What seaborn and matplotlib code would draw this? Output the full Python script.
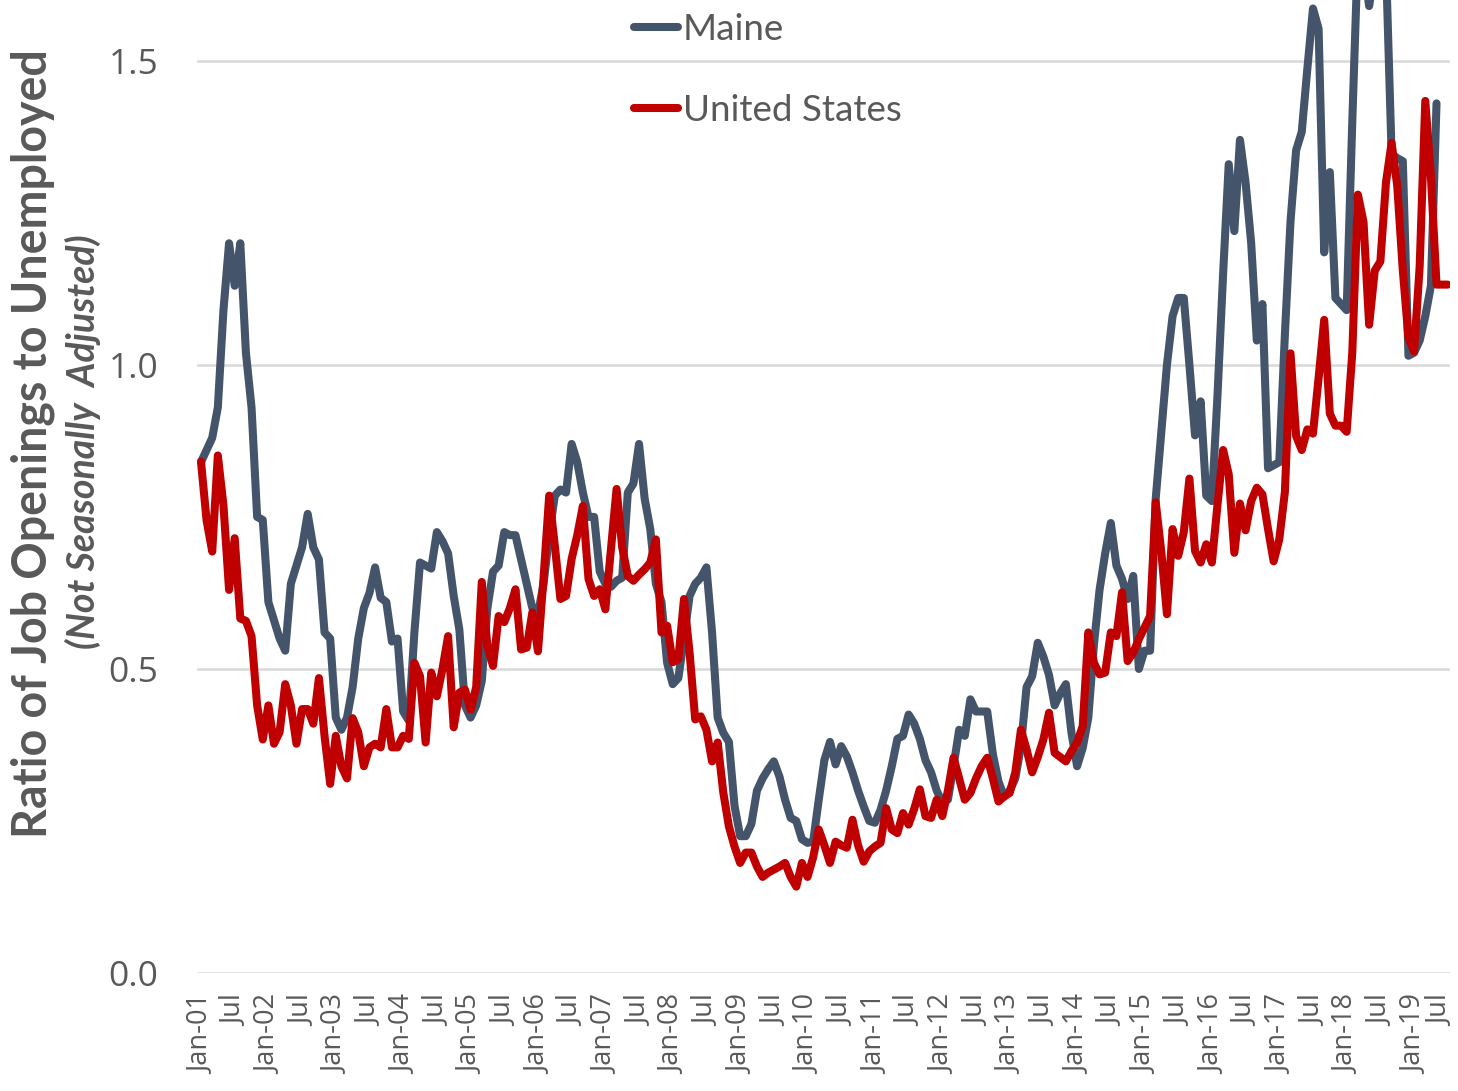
import numpy as np
import pandas as pd
import matplotlib
matplotlib.use("Agg")
import matplotlib.pyplot as plt
import matplotlib.transforms as mtransforms
import seaborn as sns

# Monthly ratio of job openings to unemployed, Jan-2001 onward
maine = [
    0.84, 0.86, 0.88, 0.93, 1.09, 1.20, 1.13, 1.20, 1.02, 0.93, 0.75, 0.745,
    0.61, 0.58, 0.55, 0.53, 0.64, 0.67, 0.70, 0.755, 0.70, 0.68, 0.56, 0.55,
    0.42, 0.40, 0.42, 0.47, 0.55, 0.60, 0.625, 0.667, 0.617, 0.61, 0.545, 0.55,
    0.43, 0.415, 0.56, 0.675, 0.67, 0.665, 0.725, 0.71, 0.69, 0.62, 0.565, 0.44,
    0.42, 0.44, 0.48, 0.60, 0.66, 0.67, 0.725, 0.72, 0.72, 0.68, 0.64, 0.60,
    0.59, 0.64, 0.72, 0.785, 0.795, 0.79, 0.87, 0.84, 0.79, 0.75, 0.75, 0.66,
    0.64, 0.635, 0.645, 0.65, 0.79, 0.805, 0.87, 0.78, 0.73, 0.64, 0.61, 0.51,
    0.475, 0.485, 0.55, 0.62, 0.64, 0.65, 0.667, 0.56, 0.42, 0.395, 0.38, 0.275,
    0.225, 0.225, 0.245, 0.30, 0.32, 0.335, 0.348, 0.323, 0.285, 0.255, 0.25, 0.22,
    0.214, 0.216, 0.285, 0.35, 0.38, 0.343, 0.373, 0.356, 0.33, 0.30, 0.274, 0.25,
    0.247, 0.268, 0.30, 0.34, 0.385, 0.39, 0.425, 0.41, 0.385, 0.35, 0.33, 0.30,
    0.28, 0.285, 0.34, 0.40, 0.39, 0.45, 0.43, 0.43, 0.43, 0.36, 0.315, 0.29,
    0.30, 0.32, 0.373, 0.47, 0.488, 0.543, 0.52, 0.49, 0.44, 0.46, 0.475, 0.395,
    0.34, 0.37, 0.42, 0.54, 0.63, 0.69, 0.74, 0.67, 0.648, 0.615, 0.653, 0.50,
    0.53, 0.53, 0.78, 0.89, 1.00, 1.08, 1.11, 1.11, 1.00, 0.884, 0.94, 0.785,
    0.776, 0.95, 1.15, 1.33, 1.22, 1.37, 1.30, 1.20, 1.04, 1.10, 0.83, 0.835,
    0.84, 1.05, 1.236, 1.353, 1.383, 1.487, 1.586, 1.553, 1.185, 1.317, 1.11, 1.10,
    1.09, 1.40, 1.68, 1.66, 1.59, 1.65, 1.70, 1.66, 1.347, 1.34, 1.335, 1.015,
    1.02, 1.04, 1.08, 1.13, 1.43,
]

united_states = [
    0.841, 0.744, 0.693, 0.851, 0.769, 0.63, 0.715, 0.583, 0.579, 0.554, 0.44, 0.384,
    0.44, 0.377, 0.396, 0.475, 0.44, 0.377, 0.434, 0.434, 0.41, 0.485, 0.39, 0.311,
    0.39, 0.34, 0.32, 0.419, 0.396, 0.34, 0.371, 0.377, 0.371, 0.434, 0.371, 0.371,
    0.39, 0.385, 0.51, 0.488, 0.379, 0.494, 0.455, 0.50, 0.554, 0.404, 0.461, 0.466,
    0.433, 0.47, 0.643, 0.537, 0.505, 0.587, 0.577, 0.60, 0.631, 0.532, 0.535, 0.593,
    0.529, 0.65, 0.785, 0.703, 0.615, 0.62, 0.681, 0.72, 0.768, 0.648, 0.62, 0.631,
    0.598, 0.697, 0.796, 0.70, 0.653, 0.645, 0.655, 0.664, 0.675, 0.713, 0.56, 0.571,
    0.511, 0.516, 0.615, 0.527, 0.417, 0.422, 0.40, 0.348, 0.379, 0.297, 0.241, 0.208,
    0.181, 0.198, 0.198, 0.175, 0.158, 0.165, 0.17, 0.175, 0.181, 0.158, 0.142, 0.181,
    0.158, 0.19, 0.236, 0.21, 0.181, 0.216, 0.21, 0.206, 0.252, 0.21, 0.183, 0.20,
    0.208, 0.214, 0.271, 0.236, 0.23, 0.263, 0.244, 0.27, 0.302, 0.258, 0.255, 0.285,
    0.258, 0.30, 0.354, 0.32, 0.285, 0.296, 0.32, 0.34, 0.354, 0.32, 0.282, 0.29,
    0.296, 0.33, 0.40, 0.368, 0.33, 0.355, 0.384, 0.428, 0.362, 0.355, 0.348, 0.365,
    0.379, 0.406, 0.56, 0.51, 0.491, 0.494, 0.56, 0.554, 0.626, 0.513, 0.527, 0.549,
    0.568, 0.587, 0.774, 0.692, 0.59, 0.73, 0.686, 0.725, 0.813, 0.694, 0.675, 0.705,
    0.675, 0.77, 0.86, 0.82, 0.691, 0.772, 0.728, 0.776, 0.798, 0.787, 0.73, 0.677,
    0.713, 0.791, 1.019, 0.883, 0.86, 0.894, 0.887, 0.978, 1.074, 0.92, 0.90, 0.90,
    0.89, 1.02, 1.28, 1.235, 1.066, 1.155, 1.17, 1.30, 1.365, 1.295, 1.155, 1.045,
    1.022, 1.162, 1.434, 1.31, 1.132, 1.132, 1.132,
]

tick_labels = [
    "Jan-01", "Jul", "Jan-02", "Jul", "Jan-03", "Jul", "Jan-04", "Jul",
    "Jan-05", "Jul", "Jan-06", "Jul", "Jan-07", "Jul", "Jan-08", "Jul",
    "Jan-09", "Jul", "Jan-10", "Jul", "Jan-11", "Jul", "Jan-12", "Jul",
    "Jan-13", "Jul", "Jan-14", "Jul", "Jan-15", "Jul", "Jan-16", "Jul",
    "Jan-17", "Jul", "Jan-18", "Jul", "Jan-19", "Jul",
]
y_ticks = [0.0, 0.5, 1.0, 1.5]
y_tick_labels = ["0.0", "0.5", "1.0", "1.5"]
series_names = ["Maine", "United States"]
colors = {"Maine": "#44546A", "United States": "#C00000"}

df = pd.DataFrame({
    "month": list(range(len(maine))) + list(range(len(united_states))),
    "ratio": maine + united_states,
    "series": [series_names[0]] * len(maine) + [series_names[1]] * len(united_states),
})

sns.set_theme(style="white")
plt.rcParams["font.family"] = ["Open Sans", "DejaVu Sans"]

W, H = 1458, 1091
LW = 5.8
fig = plt.figure(figsize=(W / 100, H / 100), dpi=100)
ax = fig.add_axes([197 / W, 1 - 973 / H, (1450 - 197) / W, 973 / H])

sns.lineplot(data=df, x="month", y="ratio", hue="series", hue_order=series_names,
             palette=colors, linewidth=LW, estimator=None, sort=False, ax=ax,
             solid_joinstyle="round", solid_capstyle="round")

ax.set_ylim(0, 1.6)
ax.set_xlim(-0.71, 222.4)
for s in ax.spines.values():
    s.set_visible(False)
ax.set_yticks(y_ticks)
ax.set_yticklabels(y_tick_labels)
ax.set_xticks(list(range(0, 6 * len(tick_labels), 6)))
ax.set_xticklabels(tick_labels, rotation=90)
ax.tick_params(axis="y", length=0, pad=28, labelsize=25.5, labelcolor="#595959")
ax.tick_params(axis="x", length=0, pad=16, labelsize=19.5, labelcolor="#595959")
ax.yaxis.grid(True, color="#d9d9d9", linewidth=1.8)
ax.xaxis.grid(False)
ax.set_axisbelow(True)
ax.set_xlabel("")
ax.set_ylabel("")

# nudge the last tick label slightly inward so it stays inside the canvas
last = ax.get_xticklabels()[-1]
last.set_transform(last.get_transform()
                   + mtransforms.ScaledTranslation(-7 / 100, 0, fig.dpi_scale_trans))

handles, labels = ax.get_legend_handles_labels()
leg = ax.legend(handles, labels, loc="upper left",
                bbox_to_anchor=(634 / W, 1 - 13 / H), bbox_transform=fig.transFigure,
                frameon=False, handlelength=1.2, handletextpad=0.12,
                labelspacing=1.31, borderpad=0, borderaxespad=0,
                prop={"family": ["Lato", "Open Sans", "DejaVu Sans"], "size": 26.5})
for t in leg.get_texts():
    t.set_color("#595959")
for l in leg.get_lines():
    l.set_linewidth(LW)
    l.set_solid_capstyle("round")

fig.text(33 / W, 1 - 444 / H, "Ratio of Job Openings to Unemployed", rotation=90,
         ha="center", va="center", fontsize=33.5, fontweight="bold", color="#595959",
         family=["Lato", "Open Sans", "DejaVu Sans"])
fig.text(83 / W, 1 - 442 / H, "(Not Seasonally  Adjusted)", rotation=90,
         ha="center", va="center", fontsize=27, fontweight="bold", style="italic",
         color="#595959", family=["Lato", "Open Sans", "DejaVu Sans"])

fig.savefig("out.png", dpi=100)
